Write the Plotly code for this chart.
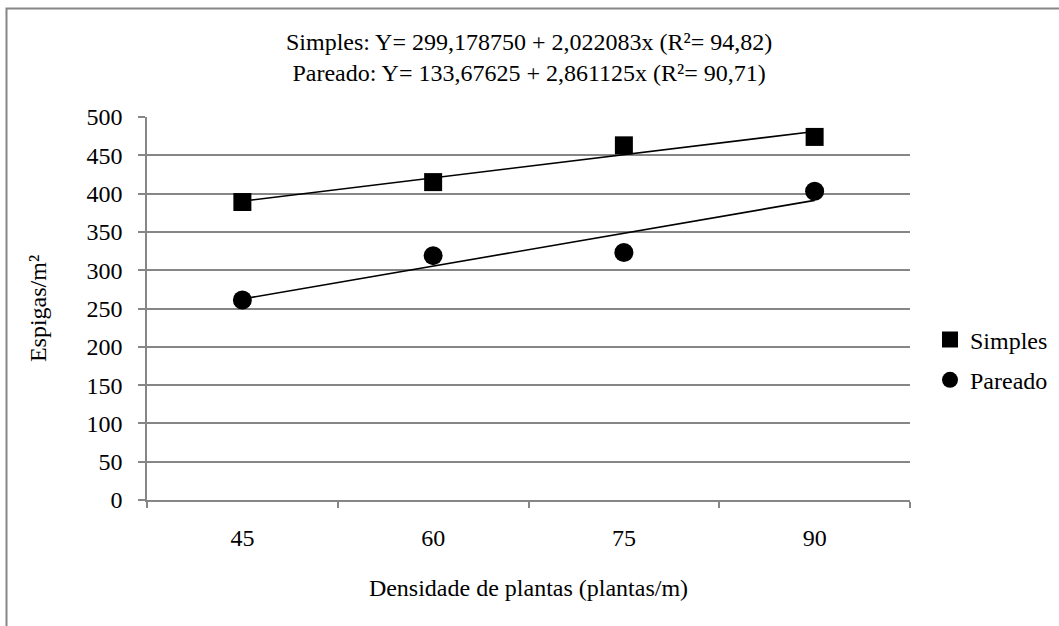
import plotly.graph_objects as go

densidade = [45, 60, 75, 90]
categorias = ["45", "60", "75", "90"]
simples = [389, 415, 463, 474]
pareado = [261, 319, 323, 403]

# trend-line coefficients as printed in the chart title
simples_coef = (299.178750, 2.022083, 94.82)
pareado_coef = (133.67625, 2.861125, 90.71)

y_ticks = [0, 50, 100, 150, 200, 250, 300, 350, 400, 450, 500]

FONT = "Liberation Serif, Times New Roman, serif"
FS = 24
GRAY = "#868686"

W, H = 1059, 626
L, R, T, B = 147, 149, 117, 126
PW, PH = W - L - R, H - T - B


def px_x(p):
    return (p - L) / PW


def px_y(p):
    return (H - B - p) / PH


simples_trend = [simples_coef[0] + simples_coef[1] * d for d in densidade]
pareado_trend = [pareado_coef[0] + pareado_coef[1] * d for d in densidade]

fig = go.Figure()

fig.add_trace(go.Scatter(
    x=categorias, y=simples_trend, mode="lines",
    line=dict(color="black", width=1.6), showlegend=False, hoverinfo="skip"))
fig.add_trace(go.Scatter(
    x=categorias, y=pareado_trend, mode="lines",
    line=dict(color="black", width=1.6), showlegend=False, hoverinfo="skip"))

fig.add_trace(go.Scatter(
    x=categorias, y=simples, mode="markers", name="Simples", legendgroup="a",
    marker=dict(symbol="square", size=18, color="black")))
fig.add_trace(go.Scatter(
    x=categorias, y=pareado, mode="markers", name="Pareado", legendgroup="b",
    marker=dict(symbol="circle", size=19, color="black")))

title_text = (
    f"Simples: Y= {simples_coef[0]:.6f}".replace(".", ",")
    + f" + {simples_coef[1]:.6f}x".replace(".", ",")
    + f" (R²= {simples_coef[2]:.2f})".replace(".", ",")
    + "<br>"
    + f"Pareado: Y= {pareado_coef[0]:.5f}".replace(".", ",")
    + f" + {pareado_coef[1]:.6f}x".replace(".", ",")
    + f" (R²= {pareado_coef[2]:.2f})".replace(".", ",")
)

fig.update_layout(
    width=W, height=H,
    margin=dict(l=L, r=R, t=T, b=B, autoexpand=False),
    paper_bgcolor="white", plot_bgcolor="white",
    font=dict(family=FONT, size=FS, color="black"),
    showlegend=True,
    legend=dict(
        x=px_x(930), y=px_y(360), xanchor="left", yanchor="middle",
        traceorder="grouped", tracegroupgap=6, itemwidth=30,
        font=dict(family=FONT, size=FS, color="black"),
        bgcolor="rgba(0,0,0,0)"),
    xaxis=dict(
        type="category", range=[-0.5, 3.5],
        categoryorder="array", categoryarray=categorias,
        showline=True, linecolor=GRAY, linewidth=1.5,
        ticks="outside", tickson="boundaries", ticklen=6, tickcolor=GRAY, tickwidth=1.5,
        showgrid=False, zeroline=False,
        tickfont=dict(family=FONT, size=FS, color="black"),
        ticklabelstandoff=15,
        title=dict(text="Densidade de plantas (plantas/m)",
                   font=dict(family=FONT, size=FS, color="black"), standoff=30)),
    yaxis=dict(
        range=[0, 500], tickvals=y_ticks,
        showline=True, linecolor=GRAY, linewidth=1.5,
        ticks="outside", ticklen=7, tickcolor=GRAY, tickwidth=1.5,
        showgrid=True, gridcolor=GRAY, gridwidth=1.5, zeroline=False,
        tickfont=dict(family=FONT, size=FS, color="black"),
        ticklabelstandoff=11,
        title=dict(text="Espigas/m²",
                   font=dict(family=FONT, size=FS, color="black"), standoff=33)),
    annotations=[dict(
        text=title_text, xref="paper", yref="paper",
        x=0.5, y=px_y(57), xanchor="center", yanchor="middle",
        showarrow=False, align="center",
        font=dict(family=FONT, size=FS, color="black"))],
    shapes=[dict(
        type="rect", xref="paper", yref="paper", layer="below",
        x0=px_x(6.5), x1=px_x(1080), y0=px_y(650), y1=px_y(8.5),
        line=dict(color=GRAY, width=2), fillcolor="rgba(0,0,0,0)")],
)

fig.write_html("out.html")
